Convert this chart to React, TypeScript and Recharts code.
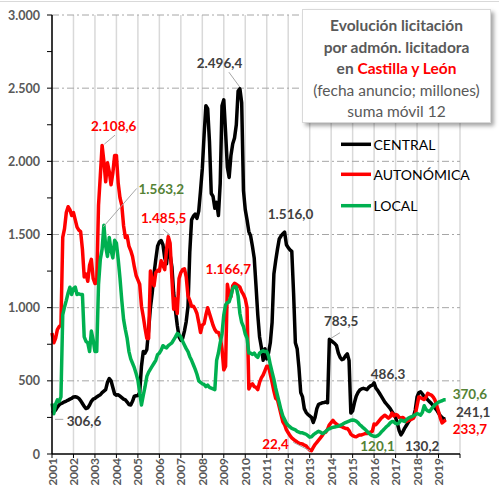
import React from 'react';
import { LineChart, Line, XAxis, YAxis, CartesianGrid, ReferenceDot } from 'recharts';

const FONT = 'Lato, "Liberation Sans", sans-serif';

// monthly categories Jan 2001 .. Jan 2020
const months: string[] = [];
for (let y = 2001; y <= 2019; y++) {
  for (let m = 1; m <= 12; m++) months.push(`${y}-${String(m).padStart(2, '0')}`);
}
months.push('2020-01');
const yearTicks = months.filter((m) => m.endsWith('-01'));

const yTicks = [0, 250, 500, 750, 1000, 1250, 1500, 1750, 2000, 2250, 2500, 2750, 3000];
const gridValues = [500, 1000, 1500, 2000, 2500, 3000];

// CENTRAL (Jan 2001 - May 2019)
const central = [
  280, 290, 300, 320, 335, 345, 350, 357, 362, 368, 375, 380,
  390, 391, 388, 380, 365, 345, 325, 311, 315, 335, 360, 375,
  380, 390, 398, 405, 420, 430, 440, 490, 516, 500, 455, 410,
  402, 405, 395, 385, 375, 370, 355, 338, 335, 360, 395, 398,
  400, 420, 600, 700, 690, 715, 850, 1000, 1100, 1230, 1330, 1420,
  1450, 1459, 1430, 1340, 1300, 1420, 1360, 1280, 1100, 980, 880, 800,
  777, 790, 840, 905, 1010, 1380, 1600, 1625, 1640, 1610, 1660, 1800,
  1950, 2180, 2380, 2360, 2135, 1780, 1760, 1680, 1720, 1630, 1850, 2380,
  2420, 2200, 1960, 1890, 2040, 2120, 2160, 2250, 2480, 2496.4, 2400, 1800,
  1670, 1600, 1520, 1490, 1420, 1340, 1150, 950, 800, 730, 640, 720,
  650, 690, 760, 900, 1230, 1320, 1400, 1470, 1490, 1505, 1516, 1430,
  1410, 1395, 1385, 1100, 760, 720, 590, 420, 390, 310, 285, 270,
  260, 250, 215, 250, 310, 340, 345, 350, 352, 355, 350, 783.5,
  775, 765, 755, 740, 690, 660, 645, 650, 670, 685, 640, 280,
  295, 350, 395, 420, 437, 445, 449, 445, 440, 455, 465, 470,
  486.3, 450, 435, 415, 395, 375, 355, 340, 325, 310, 290, 270,
  250, 210, 160, 130.2, 150, 175, 195, 215, 232, 245, 255, 300,
  390, 420, 425, 410, 392, 385, 370, 357, 345, 330, 315, 300,
  280, 262, 250, 238, 241.1,
];

// AUTONÓMICA
const autonomica = [
  827, 760, 790, 850, 870, 880, 1480, 1540, 1650, 1690, 1670, 1630,
  1650, 1600, 1550, 1530, 1520, 1400, 1210, 1230, 1180, 1290, 1330, 1200,
  1165, 1170, 1700, 1900, 2108.6, 2000, 1860, 1990, 1930, 1840, 1920, 2040,
  2040, 1850, 1750, 1700, 1560, 1480, 1490, 1420, 1390, 1350, 1280, 1220,
  1190, 1160, 1010, 940, 860, 790, 790, 1250, 1190, 1150, 1240, 1255,
  1250, 1320, 1290, 1260, 1400, 1485.5, 1440, 1200, 990, 1060, 960, 1200,
  1240, 1260, 1266, 1210, 1080, 1050, 1010, 1010, 990, 960, 900, 830,
  880, 890, 950, 1000, 960, 920, 880, 850, 833, 830, 800, 720,
  575, 600, 1160, 1090, 1075, 1150, 1166.7, 1160, 1150, 1140, 1110, 1090,
  1060, 1000, 445, 470, 480, 460, 455, 440, 490, 520, 540, 570,
  600, 600, 545, 490, 430, 380, 370, 320, 270, 220, 200, 165,
  145, 125, 110, 100, 90, 82, 75, 70, 68, 60, 55, 40,
  28, 22.4, 45, 65, 80, 95, 110, 125, 145, 150, 170, 200,
  215, 230, 215, 205, 195, 190, 187, 180, 175, 175, 160, 135,
  125, 120, 118, 125, 130, 130, 135, 140, 140, 145, 150, 155,
  205, 200, 215, 230, 245, 255, 265, 255, 245, 255, 280, 260,
  270, 265, 250, 245, 250, 240, 222, 228, 232, 238, 244, 270,
  330, 390, 385, 378, 372, 390, 414, 408, 403, 390, 369, 330,
  290, 245, 212, 222, 233.7,
];

// LOCAL
const local = [
  345, 275, 340, 370, 360, 390, 950, 1005, 1050, 1100, 1140, 1090,
  1130, 1140, 1090, 1095, 1090, 1090, 800, 770, 760, 700, 840, 780,
  700, 700, 1160, 1330, 1400, 1563.2, 1420, 1350, 1480, 1390, 1340, 1460,
  1440, 1330, 1200, 1050, 920, 850, 790, 700, 650, 620, 590, 550,
  505, 420, 335, 400, 460, 530, 560, 580, 600, 620, 640, 680,
  690, 710, 740, 730, 725, 740, 750, 760, 780, 800, 823, 815,
  800, 770, 745, 720, 700, 665, 640, 610, 580, 545, 500, 490,
  480, 475, 460, 470, 455, 450, 445, 440, 640, 690, 760, 820,
  950, 1020, 1035, 1040, 1080, 1130, 1145, 1140, 1080, 960, 900, 870,
  820, 790, 690, 690, 680, 690, 670, 660, 690, 700, 705, 700,
  700, 670, 610, 560, 510, 450, 400, 350, 300, 260, 235, 210,
  195, 185, 175, 170, 165, 155, 150, 145, 145, 140, 135, 125,
  115, 118, 130, 140, 148, 155, 150, 140, 145, 155, 165, 172,
  178, 182, 185, 188, 190, 195, 200, 208, 215, 220, 225, 230,
  232, 230, 225, 215, 200, 190, 178, 168, 155, 142, 132, 125,
  121, 120.1, 125, 135, 150, 162, 175, 188, 198, 212, 222, 220,
  210, 205, 215, 232, 228, 222, 235, 244, 250, 255, 262, 268,
  276, 272, 266, 285, 330, 305, 295, 290, 308, 322, 335, 345,
  355, 360, 364, 370, 370.6,
];

const seriesNames = ['CENTRAL', 'AUTONÓMICA', 'LOCAL'];
const seriesKeys = ['central', 'autonomica', 'local'];
const seriesColors = ['#000000', '#ff0000', '#00b050'];
const seriesValues: Record<string, number[]> = { central, autonomica, local };

const data = months.map((m, i) => ({
  m,
  central: i < central.length ? central[i] : null,
  autonomica: i < autonomica.length ? autonomica[i] : null,
  local: i < local.length ? local[i] : null,
}));

type Annot = {
  s: string; i: number; text: string; color: string;
  dx: number; dy: number; anchor?: 'start' | 'middle'; leader?: [number, number, number, number];
};

const DARK = '#404040';
const RED = '#ff0000';
const GREEN = '#548235';

const annotations: Annot[] = [
  { s: 'central', i: 105, text: '2.496,4', color: DARK, dx: -20.4, dy: -25.2, leader: [-11, -16.5, 0, -1.5] },
  { s: 'autonomica', i: 28, text: '2.108,6', color: RED, dx: 11.6, dy: -19.3, leader: [12.9, -10.3, 2.2, -1.3] },
  { s: 'local', i: 29, text: '1.563,2', color: GREEN, dx: 57.4, dy: -36.1, leader: [32.8, -36.8, -0.6, 1.6] },
  { s: 'autonomica', i: 65, text: '1.485,5', color: RED, dx: -4.6, dy: -18.2, leader: [-5, -7.2, 1.7, -1.5] },
  { s: 'autonomica', i: 102, text: '1.166,7', color: RED, dx: -6.2, dy: -13.9 },
  { s: 'central', i: 0, text: '306,6', color: DARK, dx: 32, dy: 7.7, leader: [3, 6.3, 11.3, 6.3] },
  { s: 'central', i: 130, text: '1.516,0', color: DARK, dx: 5.9, dy: -17.7 },
  { s: 'central', i: 155, text: '783,5', color: DARK, dx: 11.8, dy: -18.3, leader: [10.6, -6.6, 1.6, -1] },
  { s: 'central', i: 180, text: '486,3', color: DARK, dx: 13.9, dy: -8.8 },
  { s: 'autonomica', i: 145, text: '22,4', color: RED, dx: -36, dy: -6.4, leader: [-18.2, -8.4, -1.5, 0] },
  { s: 'local', i: 181, text: '120,1', color: GREEN, dx: 1.6, dy: 9.6 },
  { s: 'central', i: 195, text: '130,2', color: DARK, dx: 21.2, dy: 11.1 },
  { s: 'local', i: 220, text: '370,6', color: GREEN, dx: 7, dy: -5.7, anchor: 'start' },
  { s: 'central', i: 220, text: '241,1', color: DARK, dx: 10.3, dy: -6.4, anchor: 'start' },
  { s: 'autonomica', i: 220, text: '233,7', color: RED, dx: 7, dy: 9.2, anchor: 'start' },
];

const fmtThousands = (v: number) =>
  v >= 1000 ? `${Math.floor(v / 1000)}.${String(v % 1000).padStart(3, '0')}` : String(v);

const XTick = (props: any) => {
  const { x, y, payload } = props;
  const yr = String(payload.value).slice(0, 4);
  if (yr === '2020') return <g />;
  return (
    <text
      x={x}
      y={y}
      transform={`rotate(-90 ${x} ${y})`}
      textAnchor="end"
      dominantBaseline="central"
      fontFamily={FONT}
      fontWeight={700}
      fontSize={12}
      fill="#595959"
    >
      {yr}
    </text>
  );
};

const YTick = (props: any) => {
  const { x, y, payload } = props;
  if (payload.value % 500 !== 0) return <g />;
  return (
    <text x={x} y={y} textAnchor="end" dominantBaseline="central" fontFamily={FONT} fontWeight={700} fontSize={12.5} fill="#595959">
      {fmtThousands(payload.value)}
    </text>
  );
};

const renderAnnot = (a: Annot) => (p: any) => {
  const cx = p.cx as number;
  const cy = p.cy as number;
  return (
    <g>
      {a.leader && (
        <line x1={cx + a.leader[0]} y1={cy + a.leader[1]} x2={cx + a.leader[2]} y2={cy + a.leader[3]} stroke="#a6a6a6" strokeWidth={1} />
      )}
      <text
        x={cx + a.dx}
        y={cy + a.dy}
        textAnchor={a.anchor || 'middle'}
        dominantBaseline="central"
        fontFamily={FONT}
        fontWeight={700}
        fontSize={13.5}
        fill={a.color}
      >
        {a.text}
      </text>
    </g>
  );
};

export default function App() {
  return (
    <div style={{ position: 'absolute', left: 0, top: 0, width: 499, height: 485, background: '#fff', fontFamily: FONT, overflow: 'hidden' }}>
      <svg width={499} height={485} style={{ position: 'absolute', left: 0, top: 0 }}>
        <line x1={0} y1={1.5} x2={499} y2={1.5} stroke="#d9d9d9" strokeWidth={1} />
      </svg>
      <div style={{ position: 'absolute', left: 0, top: 0 }}>
        <LineChart width={499} height={485} data={data} margin={{ top: 15, right: 39, bottom: 0, left: 0 }}>
          <CartesianGrid horizontal={false} vertical stroke="#d9d9d9" strokeWidth={1.5} />
          <CartesianGrid vertical={false} horizontalValues={gridValues} stroke="#a6a6a6" strokeWidth={1} strokeDasharray="7 3 2 3" />
          <XAxis
            dataKey="m"
            ticks={yearTicks}
            interval={0}
            tick={<XTick />}
            tickSize={4}
            tickMargin={0}
            height={31}
            axisLine={{ stroke: '#000', strokeWidth: 1.5 }}
            tickLine={{ stroke: '#000' }}
          />
          <YAxis
            domain={[0, 3000]}
            ticks={yTicks}
            interval={0}
            width={52}
            tick={<YTick />}
            tickSize={5}
            tickMargin={7}
            axisLine={{ stroke: '#000', strokeWidth: 1.5 }}
            tickLine={{ stroke: '#000' }}
          />
          {seriesKeys.map((k, idx) => (
            <Line
              key={k}
              type="linear"
              dataKey={k}
              name={seriesNames[idx]}
              stroke={seriesColors[idx]}
              strokeWidth={3.5}
              dot={false}
              activeDot={false}
              isAnimationActive={false}
              strokeLinejoin="round"
            />
          ))}
          {annotations.map((a, j) => (
            <ReferenceDot
              key={j}
              x={months[a.i]}
              y={seriesValues[a.s][a.i]}
              r={0}
              ifOverflow="visible"
              shape={renderAnnot(a)}
            />
          ))}
        </LineChart>
      </div>
      {/* Title box */}
      <div
        style={{
          position: 'absolute', left: 302, top: 9, width: 189, height: 114, boxSizing: 'border-box',
          background: '#fff', border: '1px solid #d9d9d9', boxShadow: '3px 3px 4px rgba(0,0,0,0.35)',
          textAlign: 'center', color: '#595959', fontSize: 15.5, lineHeight: '21.5px', paddingTop: 5, whiteSpace: 'nowrap',
        }}
      >
        <div style={{ fontWeight: 700 }}>Evolución licitación</div>
        <div style={{ fontWeight: 700 }}>por admón. licitadora</div>
        <div style={{ fontWeight: 700 }}>en <span style={{ color: '#ff0000' }}>Castilla y León</span></div>
        <div>(fecha anuncio; millones)</div>
        <div>suma móvil 12</div>
      </div>
      {/* Legend */}
      <svg width={160} height={100} style={{ position: 'absolute', left: 330, top: 125 }}>
        {seriesNames.map((n, idx) => {
          const cy = [19.3, 49.3, 80.7][idx];
          return (
            <g key={n}>
              <line x1={11} y1={cy} x2={41} y2={cy} stroke={seriesColors[idx]} strokeWidth={3.5} />
              <text x={43.5} y={cy} dominantBaseline="central" fontFamily={FONT} fontSize={14} fill="#000">{n}</text>
            </g>
          );
        })}
      </svg>
    </div>
  );
}
